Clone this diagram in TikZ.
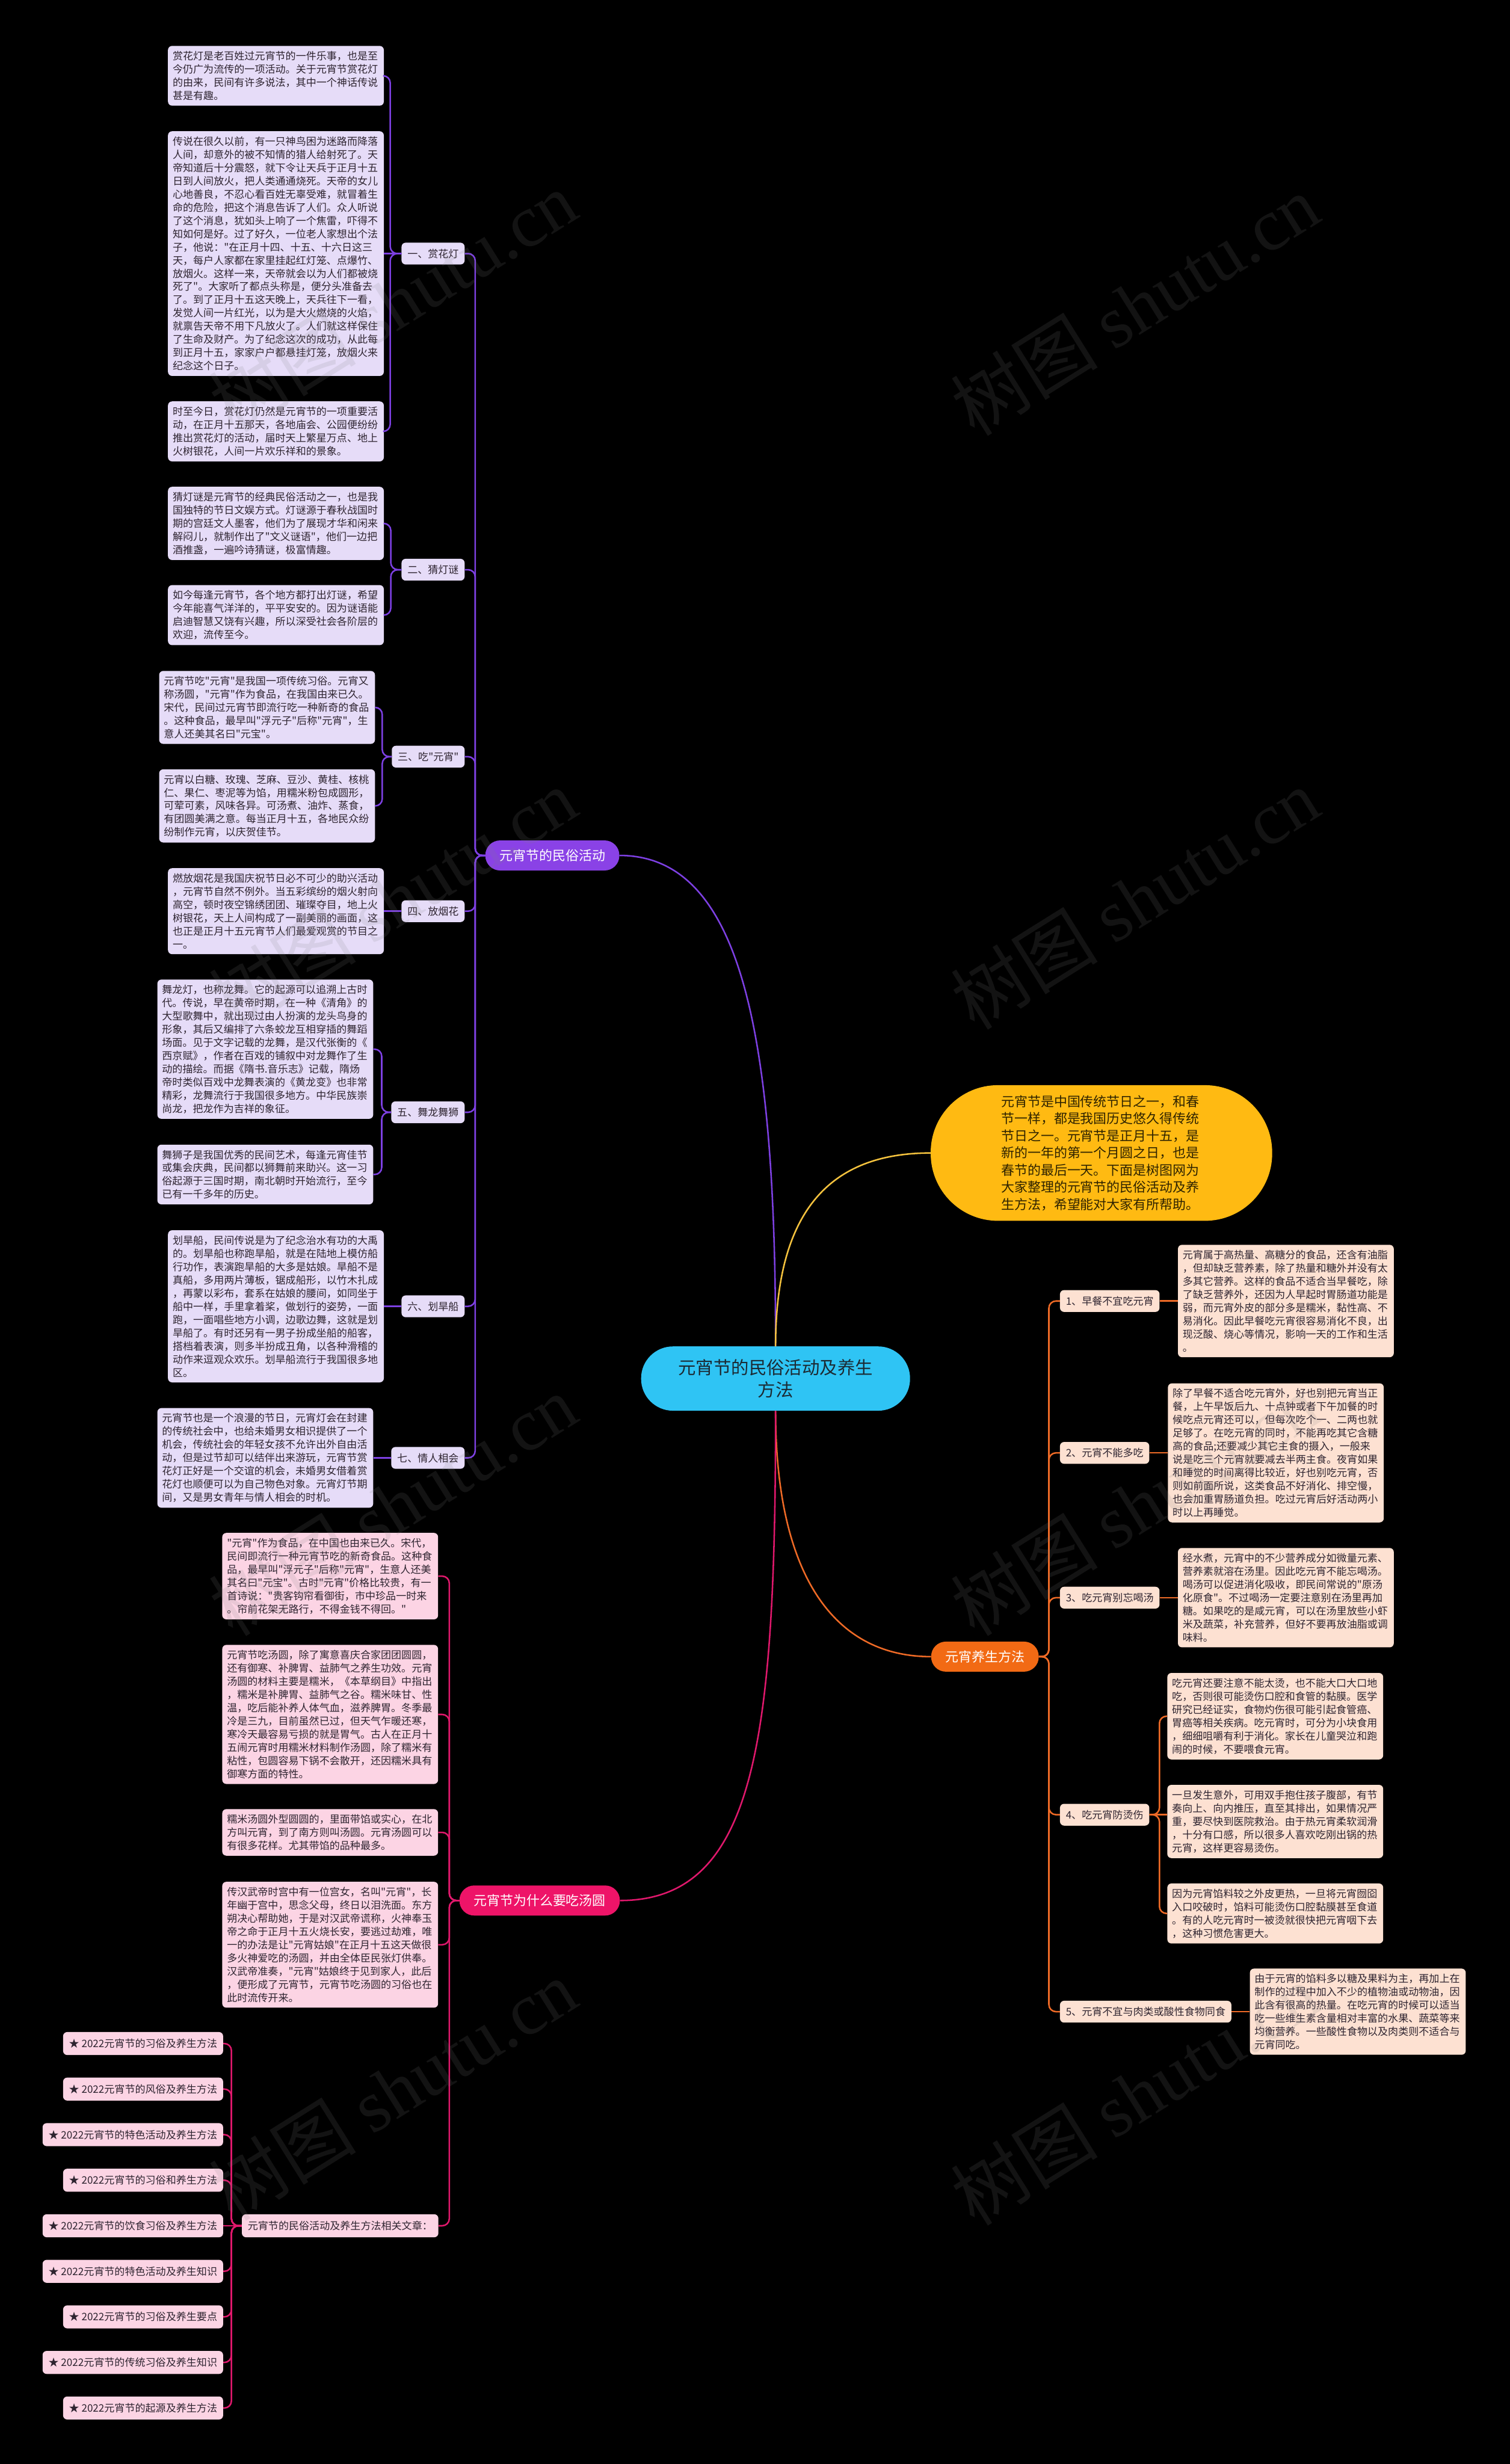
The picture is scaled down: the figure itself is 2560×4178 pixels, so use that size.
\documentclass[tikz,border=0pt]{standalone}
\usepackage{fontspec}
\setmainfont{Noto Sans CJK SC}[Ligatures=TeXOff]
\newfontfamily\wmlatin{Liberation Serif}
\usepackage{xcolor}
\usepackage{tikz}
\usetikzlibrary{positioning}
\definecolor{bgBlack}{HTML}{000000}
\definecolor{rootCyan}{HTML}{2FC4F4}
\definecolor{rootText}{HTML}{1C2A33}
\definecolor{introYellow}{HTML}{FFBA12}
\definecolor{introLine}{HTML}{F4C23E}
\definecolor{introText}{HTML}{2E2300}
\definecolor{actPurple}{HTML}{8A42E6}
\definecolor{actLine}{HTML}{7D40E2}
\definecolor{actLeaf}{HTML}{E6DCF8}
\definecolor{careOrange}{HTML}{F26A14}
\definecolor{careLine}{HTML}{EE6A26}
\definecolor{careLeaf}{HTML}{FDE1D2}
\definecolor{soupPink}{HTML}{EE1468}
\definecolor{soupLine}{HTML}{E0186C}
\definecolor{soupLeaf}{HTML}{FCD4E4}
\definecolor{leafText}{HTML}{2E2430}

\tikzset{
  leafbox/.style={fill=#1, rounded corners=7pt, text width=350pt, inner xsep=8pt, inner ysep=9pt,
    align=left, text=leafText, font=\fontsize{17.4}{22.4}\selectfont},
  topicnode/.style={fill=#1, rounded corners=7pt, minimum height=37pt, inner xsep=10pt, inner ysep=0pt,
    text=leafText, font=\fontsize{17.4}{22.4}\selectfont},
  branchnode/.style={fill=#1, rounded corners=25pt, minimum height=51pt, inner xsep=24pt, inner ysep=0pt,
    text=white, font=\fontsize{22.4}{26}\selectfont},
  link/.style={draw=#1, line width=2.6pt, rounded corners=12pt},
  mainlink/.style={draw=#1, line width=2.6pt},
  watermark/.style={rotate=32, text=gray, opacity=0.15, font=\fontsize{125}{125}\selectfont}
}

\begin{document}
\begin{tikzpicture}[x=1pt,y=-1pt]
  \fill[bgBlack] (0,0) rectangle (2560,4178);
  \useasboundingbox (0,0) rectangle (2560,4178);

  % root and intro
  \node[fill=rootCyan, rounded corners=54pt, minimum width=456pt, minimum height=109pt, align=center,
    text=rootText, font=\fontsize{30}{38}\selectfont] (root) at (1315,2337.5) {元宵节的民俗活动及养生\\方法};
  \node[fill=introYellow, rounded corners=114pt, minimum width=579pt, minimum height=230pt,
    text width=340pt, align=left, text=introText, font=\fontsize{22.4}{29}\selectfont] (intro) at (1867.5,1955)
    {元宵节是中国传统节日之一，和春\\节一样，都是我国历史悠久得传统\\节日之一。元宵节是正月十五，是\\新的一年的第一个月圆之日，也是\\春节的最后一天。下面是树图网为\\大家整理的元宵节的民俗活动及养\\生方法，希望能对大家有所帮助。};

  \node[branchnode=actPurple] (act) at (936.5,1450.5) {元宵节的民俗活动};
  \node[branchnode=careOrange] (care) at (1670,2809) {元宵养生方法};
  \node[branchnode=soupPink] (soup) at (915,3222.5) {元宵节为什么要吃汤圆};

  \draw[mainlink=actLine] (act.east) .. controls +(210,0) and +(0,-520) .. (root.north);
  \draw[mainlink=introLine] (root.north) .. controls +(0,-230) and +(-170,0) .. (intro.west);
  \draw[mainlink=careLine] (root.south) .. controls +(0,270) and +(-170,0) .. (care.west);
  \draw[mainlink=soupLine] (root.south) .. controls +(0,560) and +(230,0) .. (soup.east);

  % folk activities
  \node[topicnode=actLeaf, anchor=east] (lamp) at (788,430) {一、赏花灯};
  \node[topicnode=actLeaf, anchor=east] (riddle) at (788,966) {二、猜灯谜};
  \node[topicnode=actLeaf, anchor=east] (yuanxiao) at (788,1283) {三、吃"元宵"};
  \node[topicnode=actLeaf, anchor=east] (fire) at (788,1545) {四、放烟花};
  \node[topicnode=actLeaf, anchor=east] (dragon) at (788,1886) {五、舞龙舞狮};
  \node[topicnode=actLeaf, anchor=east] (boat) at (788,2215) {六、划旱船};
  \node[topicnode=actLeaf, anchor=east] (lovers) at (788,2472) {七、情人相会};
  \foreach \t in {lamp,riddle,yuanxiao,fire,dragon,boat,lovers}
    \draw[link=actLine] (act.west) -- ++(-17,0) |- (\t.east);

  \node[leafbox=actLeaf, anchor=east] (lampA) at (651,128.5)
    {赏花灯是老百姓过元宵节的一件乐事，也是至\\今仍广为流传的一项活动。关于元宵节赏花灯\\的由来，民间有许多说法，其中一个神话传说\\甚是有趣。};
  \node[leafbox=actLeaf, anchor=east] (lampB) at (651,430)
    {传说在很久以前，有一只神鸟困为迷路而降落\\人间，却意外的被不知情的猎人给射死了。天\\帝知道后十分震怒，就下令让天兵于正月十五\\日到人间放火，把人类通通烧死。天帝的女儿\\心地善良，不忍心看百姓无辜受难，就冒着生\\命的危险，把这个消息告诉了人们。众人听说\\了这个消息，犹如头上响了一个焦雷，吓得不\\知如何是好。过了好久，一位老人家想出个法\\子，他说："在正月十四、十五、十六日这三\\天，每户人家都在家里挂起红灯笼、点爆竹、\\放烟火。这样一来，天帝就会以为人们都被烧\\死了"。大家听了都点头称是，便分头准备去\\了。到了正月十五这天晚上，天兵往下一看，\\发觉人间一片红光，以为是大火燃烧的火焰，\\就禀告天帝不用下凡放火了。人们就这样保住\\了生命及财产。为了纪念这次的成功，从此每\\到正月十五，家家户户都悬挂灯笼，放烟火来\\纪念这个日子。};
  \node[leafbox=actLeaf, anchor=east] (lampC) at (651,731.5)
    {时至今日，赏花灯仍然是元宵节的一项重要活\\动，在正月十五那天，各地庙会、公园便纷纷\\推出赏花灯的活动，届时天上繁星万点、地上\\火树银花，人间一片欢乐祥和的景象。};
  \node[leafbox=actLeaf, anchor=east] (riddleA) at (651,887.5)
    {猜灯谜是元宵节的经典民俗活动之一，也是我\\国独特的节日文娱方式。灯谜源于春秋战国时\\期的宫廷文人墨客，他们为了展现才华和闲来\\解闷儿，就制作出了"文义谜语"，他们一边把\\酒推盏，一遍吟诗猜谜，极富情趣。};
  \node[leafbox=actLeaf, anchor=east] (riddleB) at (651,1043)
    {如今每逢元宵节，各个地方都打出灯谜，希望\\今年能喜气洋洋的，平平安安的。因为谜语能\\启迪智慧又饶有兴趣，所以深受社会各阶层的\\欢迎，流传至今。};
  \node[leafbox=actLeaf, anchor=east] (yuanxiaoA) at (636,1199.5)
    {元宵节吃"元宵"是我国一项传统习俗。元宵又\\称汤圆，"元宵"作为食品，在我国由来已久。\\宋代，民间过元宵节即流行吃一种新奇的食品\\。这种食品，最早叫"浮元子"后称"元宵"，生\\意人还美其名曰"元宝"。};
  \node[leafbox=actLeaf, anchor=east] (yuanxiaoB) at (636,1366.5)
    {元宵以白糖、玫瑰、芝麻、豆沙、黄桂、核桃\\仁、果仁、枣泥等为馅，用糯米粉包成圆形，\\可荤可素，风味各异。可汤煮、油炸、蒸食，\\有团圆美满之意。每当正月十五，各地民众纷\\纷制作元宵，以庆贺佳节。};
  \node[leafbox=actLeaf, anchor=east] (fireA) at (651,1545)
    {燃放烟花是我国庆祝节日必不可少的助兴活动\\，元宵节自然不例外。当五彩缤纷的烟火射向\\高空，顿时夜空锦绣团团、璀璨夺目，地上火\\树银花，天上人间构成了一副美丽的画面，这\\也正是正月十五元宵节人们最爱观赏的节目之\\一。};
  \node[leafbox=actLeaf, anchor=east] (dragonA) at (633,1779)
    {舞龙灯，也称龙舞。它的起源可以追溯上古时\\代。传说，早在黄帝时期，在一种《清角》的\\大型歌舞中，就出现过由人扮演的龙头鸟身的\\形象，其后又编排了六条蛟龙互相穿插的舞蹈\\场面。见于文字记载的龙舞，是汉代张衡的《\\西京赋》，作者在百戏的铺叙中对龙舞作了生\\动的描绘。而据《隋书.音乐志》记载，隋炀\\帝时类似百戏中龙舞表演的《黄龙变》也非常\\精彩，龙舞流行于我国很多地方。中华民族崇\\尚龙，把龙作为吉祥的象征。};
  \node[leafbox=actLeaf, anchor=east] (dragonB) at (633,1991.5)
    {舞狮子是我国优秀的民间艺术，每逢元宵佳节\\或集会庆典，民间都以狮舞前来助兴。这一习\\俗起源于三国时期，南北朝时开始流行，至今\\已有一千多年的历史。};
  \node[leafbox=actLeaf, anchor=east] (boatA) at (651,2215)
    {划旱船，民间传说是为了纪念治水有功的大禹\\的。划旱船也称跑旱船，就是在陆地上模仿船\\行功作，表演跑旱船的大多是姑娘。旱船不是\\真船，多用两片薄板，锯成船形，以竹木扎成\\，再蒙以彩布，套系在姑娘的腰间，如同坐于\\船中一样，手里拿着桨，做划行的姿势，一面\\跑，一面唱些地方小调，边歌边舞，这就是划\\旱船了。有时还另有一男子扮成坐船的船客，\\搭档着表演，则多半扮成丑角，以各种滑稽的\\动作来逗观众欢乐。划旱船流行于我国很多地\\区。};
  \node[leafbox=actLeaf, anchor=east] (loversA) at (633,2472)
    {元宵节也是一个浪漫的节日，元宵灯会在封建\\的传统社会中，也给未婚男女相识提供了一个\\机会，传统社会的年轻女孩不允许出外自由活\\动，但是过节却可以结伴出来游玩，元宵节赏\\花灯正好是一个交谊的机会，未婚男女借着赏\\花灯也顺便可以为自己物色对象。元宵灯节期\\间，又是男女青年与情人相会的时机。};

  \draw[link=actLine] (lamp.west) -- ++(-19,0) |- (lampA.east);
  \draw[link=actLine] (lamp.west) -- (lampB.east);
  \draw[link=actLine] (lamp.west) -- ++(-19,0) |- (lampC.east);
  \draw[link=actLine] (riddle.west) -- ++(-18,0) |- (riddleA.east);
  \draw[link=actLine] (riddle.west) -- ++(-18,0) |- (riddleB.east);
  \draw[link=actLine] (yuanxiao.west) -- ++(-16,0) |- (yuanxiaoA.east);
  \draw[link=actLine] (yuanxiao.west) -- ++(-16,0) |- (yuanxiaoB.east);
  \draw[link=actLine] (fire.west) -- (fireA.east);
  \draw[link=actLine] (dragon.west) -- ++(-16,0) |- (dragonA.east);
  \draw[link=actLine] (dragon.west) -- ++(-16,0) |- (dragonB.east);
  \draw[link=actLine] (boat.west) -- (boatA.east);
  \draw[link=actLine] (lovers.west) -- (loversA.east);

  % why tangyuan
  \node[leafbox=soupLeaf, anchor=east] (soupA) at (743,2672.5)
    {"元宵"作为食品，在中国也由来已久。宋代，\\民间即流行一种元宵节吃的新奇食品。这种食\\品，最早叫"浮元子"后称"元宵"，生意人还美\\其名曰"元宝"。古时"元宵"价格比较贵，有一\\首诗说："贵客钩帘看御街，市中珍品一时来\\。帘前花架无路行，不得金钱不得回。"};
  \node[leafbox=soupLeaf, anchor=east] (soupB) at (743,2907)
    {元宵节吃汤圆，除了寓意喜庆合家团团圆圆，\\还有御寒、补脾胃、益肺气之养生功效。元宵\\汤圆的材料主要是糯米，《本草纲目》中指出\\，糯米是补脾胃、益肺气之谷。糯米味甘、性\\温，吃后能补养人体气血，滋养脾胃。冬季最\\冷是三九，目前虽然已过，但天气乍暖还寒，\\寒冷天最容易亏损的就是胃气。古人在正月十\\五闹元宵时用糯米材料制作汤圆，除了糯米有\\粘性，包圆容易下锅不会散开，还因糯米具有\\御寒方面的特性。};
  \node[leafbox=soupLeaf, anchor=east] (soupC) at (743,3107)
    {糯米汤圆外型圆圆的，里面带馅或实心，在北\\方叫元宵，到了南方则叫汤圆。元宵汤圆可以\\有很多花样。尤其带馅的品种最多。};
  \node[leafbox=soupLeaf, anchor=east] (soupD) at (743,3297.5)
    {传汉武帝时宫中有一位宫女，名叫"元宵"，长\\年幽于宫中，思念父母，终日以泪洗面。东方\\朔决心帮助她，于是对汉武帝谎称，火神奉玉\\帝之命于正月十五火烧长安，要逃过劫难，唯\\一的办法是让"元宵姑娘"在正月十五这天做很\\多火神爱吃的汤圆，并由全体臣民张灯供奉。\\汉武帝准奏，"元宵"姑娘终于见到家人，此后\\，便形成了元宵节，元宵节吃汤圆的习俗也在\\此时流传开来。};
  \node[topicnode=soupLeaf, anchor=east, minimum height=39pt] (rel) at (743.5,3774) {元宵节的民俗活动及养生方法相关文章：};
  \foreach \t in {soupA,soupB,soupC,soupD,rel}
    \draw[link=soupLine] (soup.west) -- ++(-17,0) |- (\t.east);

  \foreach \t [count=\k from 0] in {习俗及养生方法,风俗及养生方法,特色活动及养生方法,习俗和养生方法,
      饮食习俗及养生方法,特色活动及养生知识,习俗及养生要点,传统习俗及养生知识,起源及养生方法}
    \node[topicnode=soupLeaf, anchor=east, minimum height=39pt] (item\k) at (378.5,3465+77.25*\k) {★ 2022元宵节的\t};
  \foreach \k in {0,1,2,3,5,6,7,8}
    \draw[link=soupLine] (rel.west) -- ++(-17.5,0) |- (item\k.east);
  \draw[link=soupLine] (rel.west) -- (item4.east);

  % health care
  \node[topicnode=careLeaf, anchor=west] (breakfast) at (1797,2206) {1、早餐不宜吃元宵};
  \node[topicnode=careLeaf, anchor=west] (moderate) at (1797,2463.5) {2、元宵不能多吃};
  \node[topicnode=careLeaf, anchor=west] (broth) at (1797,2709) {3、吃元宵别忘喝汤};
  \node[topicnode=careLeaf, anchor=west] (scald) at (1797,3077) {4、吃元宵防烫伤};
  \node[topicnode=careLeaf, anchor=west] (pairing) at (1797,3411) {5、元宵不宜与肉类或酸性食物同食};
  \foreach \t in {breakfast,moderate,broth,scald,pairing}
    \draw[link=careLine] (care.east) -- ++(17,0) |- (\t.west);

  \node[leafbox=careLeaf, anchor=west] (breakfastA) at (1997,2206)
    {元宵属于高热量、高糖分的食品，还含有油脂\\，但却缺乏营养素，除了热量和糖外并没有太\\多其它营养。这样的食品不适合当早餐吃，除\\了缺乏营养外，还因为人早起时胃肠道功能是\\弱，而元宵外皮的部分多是糯米，黏性高、不\\易消化。因此早餐吃元宵很容易消化不良，出\\现泛酸、烧心等情况，影响一天的工作和生活\\。};
  \node[leafbox=careLeaf, anchor=west] (moderateA) at (1980,2463.5)
    {除了早餐不适合吃元宵外，好也别把元宵当正\\餐，上午早饭后九、十点钟或者下午加餐的时\\候吃点元宵还可以，但每次吃个一、二两也就\\足够了。在吃元宵的同时，不能再吃其它含糖\\高的食品;还要减少其它主食的摄入，一般来\\说是吃三个元宵就要减去半两主食。夜宵如果\\和睡觉的时间离得比较近，好也别吃元宵，否\\则如前面所说，这类食品不好消化、排空慢，\\也会加重胃肠道负担。吃过元宵后好活动两小\\时以上再睡觉。};
  \node[leafbox=careLeaf, anchor=west] (brothA) at (1997,2709)
    {经水煮，元宵中的不少营养成分如微量元素、\\营养素就溶在汤里。因此吃元宵不能忘喝汤。\\喝汤可以促进消化吸收，即民间常说的"原汤\\化原食"。不过喝汤一定要注意别在汤里再加\\糖。如果吃的是咸元宵，可以在汤里放些小虾\\米及蔬菜，补充营养，但好不要再放油脂或调\\味料。};
  \node[leafbox=careLeaf, anchor=west] (scaldA) at (1979,2910)
    {吃元宵还要注意不能太烫，也不能大口大口地\\吃，否则很可能烫伤口腔和食管的黏膜。医学\\研究已经证实，食物灼伤很可能引起食管癌、\\胃癌等相关疾病。吃元宵时，可分为小块食用\\，细细咀嚼有利于消化。家长在儿童哭泣和跑\\闹的时候，不要喂食元宵。};
  \node[leafbox=careLeaf, anchor=west] (scaldB) at (1979,3088.5)
    {一旦发生意外，可用双手抱住孩子腹部，有节\\奏向上、向内推压，直至其排出，如果情况严\\重，要尽快到医院救治。由于热元宵柔软润滑\\，十分有口感，所以很多人喜欢吃刚出锅的热\\元宵，这样更容易烫伤。};
  \node[leafbox=careLeaf, anchor=west] (scaldC) at (1979,3244.5)
    {因为元宵馅料较之外皮更热，一旦将元宵囫囵\\入口咬破时，馅料可能烫伤口腔黏膜甚至食道\\。有的人吃元宵时一被烫就很快把元宵咽下去\\，这种习惯危害更大。};
  \node[leafbox=careLeaf, anchor=west] (pairingA) at (2119,3411)
    {由于元宵的馅料多以糖及果料为主，再加上在\\制作的过程中加入不少的植物油或动物油，因\\此含有很高的热量。在吃元宵的时候可以适当\\吃一些维生素含量相对丰富的水果、蔬菜等来\\均衡营养。一些酸性食物以及肉类则不适合与\\元宵同吃。};

  \draw[link=careLine] (breakfast.east) -- (breakfastA.west);
  \draw[link=careLine] (moderate.east) -- (moderateA.west);
  \draw[link=careLine] (broth.east) -- (brothA.west);
  \draw[link=careLine] (scald.east) -- ++(17,0) |- (scaldA.west);
  \draw[link=careLine] (scald.east) -- (scaldB.west |- scald.east);
  \draw[link=careLine] (scald.east) -- ++(17,0) |- (scaldC.west);
  \draw[link=careLine] (pairing.east) -- (pairingA.west);

  % watermarks
  \foreach \wx/\wy [count=\k] in {666/511,1924/517,666/1524,1924/1524,666/2552,1924/2552,666/3543,1924/3551}
    \node[watermark] (wm\k) at (\wx,\wy) {树图 {\wmlatin shutu.cn}};
\end{tikzpicture}
\end{document}
